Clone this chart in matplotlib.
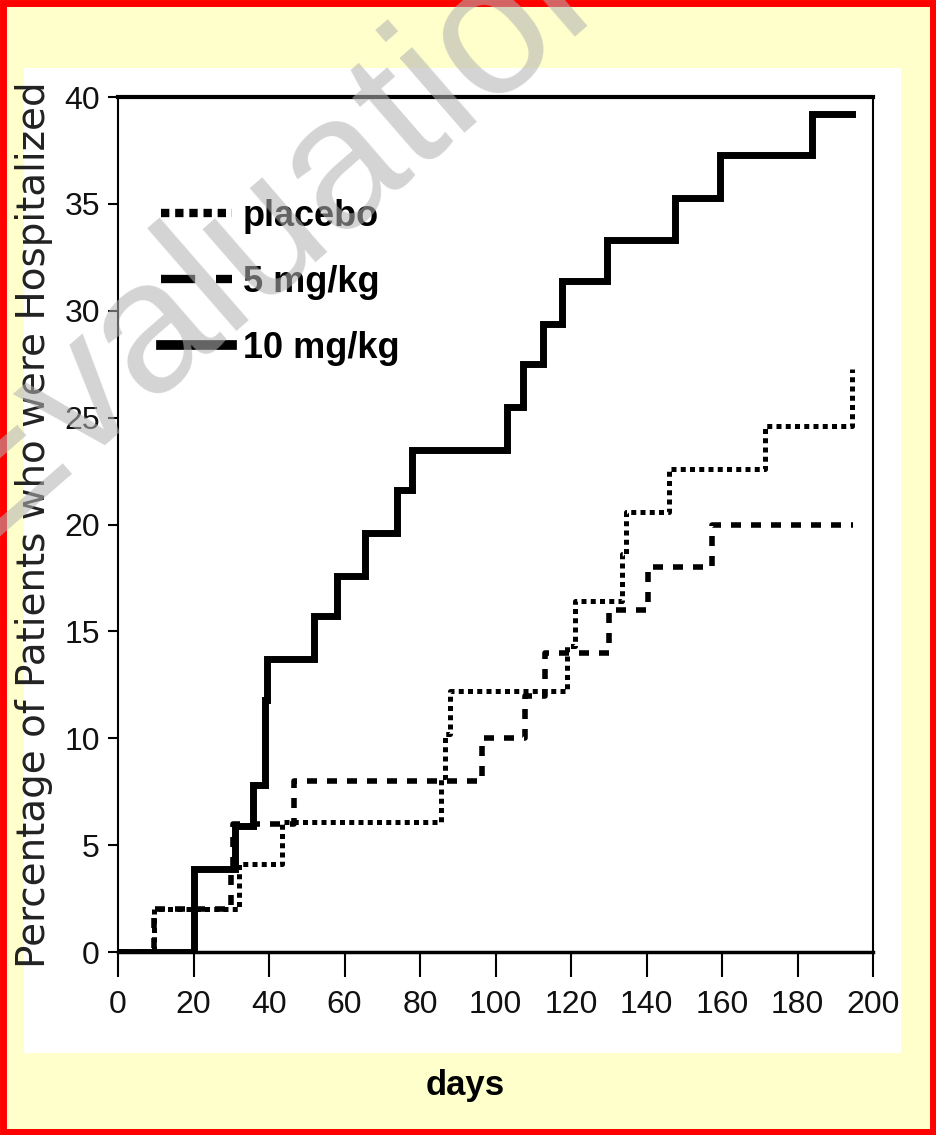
import matplotlib
matplotlib.use('Agg')
import matplotlib.pyplot as plt
from matplotlib.lines import Line2D
from matplotlib.patches import Rectangle

# cumulative hospitalisation, read as step functions (day, percent)
days_placebo = [0, 9.5, 32, 43.5, 85.5, 86.5, 88, 119, 121, 133.5, 134.5, 146, 171.5, 194.5]
pct_placebo = [0, 2.0, 4.1, 6.1, 8.2, 10.2, 12.2, 14.3, 16.4, 18.6, 20.6, 22.6, 24.6, 27.3]

days_5mg = [0, 9.5, 30, 30.5, 46.5, 96.4, 107.8, 113, 130, 140.5, 157.3, 194.7]
pct_5mg = [0, 2, 4, 6, 8, 10, 12, 14, 16, 18, 20, 20]

days_10mg = [0, 20, 31, 35.8, 38.9, 39.5, 52, 58, 65.4, 74, 78, 103, 107.3, 112.6,
             117.6, 129.5, 147.5, 159.5, 183.8, 194.5]
pct_10mg = [0, 3.9, 5.9, 7.8, 11.8, 13.7, 15.7, 17.6, 19.6, 21.6, 23.5, 25.5, 27.5,
            29.4, 31.4, 33.3, 35.3, 37.3, 39.2, 39.2]

labels = ['placebo', '5 mg/kg', '10 mg/kg']
xticks = list(range(0, 201, 20))
yticks = list(range(0, 41, 5))

tick_font = ['Liberation Sans Narrow', 'Liberation Sans', 'DejaVu Sans']

fig = plt.figure(figsize=(9.36, 11.35), dpi=100, facecolor='#FFFFCC')

# white panel behind the chart
fig.patches.append(Rectangle((0.0256, 0.0722), 0.937, 0.8678, transform=fig.transFigure,
                             facecolor='white', edgecolor='none', zorder=0))
# red frame
fig.patches.append(Rectangle((0.003, 0.003), 0.994, 0.994, transform=fig.transFigure,
                             facecolor='none', edgecolor='#FF0000', linewidth=5, zorder=5))

ax = fig.add_axes([0.1261, 0.1612, 0.8066, 0.7533], zorder=2)
ax.set_facecolor('white')

ax.step(days_placebo, pct_placebo, where='post', color='black', lw=3.6,
        linestyle=(0, (1.0, 0.85)))
ax.step(days_5mg, pct_5mg, where='post', color='black', lw=4.0,
        linestyle=(0, (1.8, 1.8)))
ax.step(days_10mg, pct_10mg, where='post', color='black', lw=5.0,
        solid_joinstyle='miter')

ax.set_xlim(0, 200)
ax.set_ylim(0, 40)
ax.set_xticks(xticks)
ax.set_yticks(yticks)
ax.tick_params(axis='x', direction='out', length=18, width=1.5, pad=9, labelsize=23)
ax.tick_params(axis='y', direction='out', length=7, width=1.5, pad=6, labelsize=23)
for lab in ax.get_xticklabels() + ax.get_yticklabels():
    lab.set_family(tick_font)
    lab.set_color('#111111')

ax.spines['top'].set_linewidth(3)
ax.spines['bottom'].set_linewidth(2.5)
ax.spines['left'].set_linewidth(1.5)
ax.spines['right'].set_linewidth(1.5)

ax.set_ylabel('Percentage of Patients who were Hospitalized', family='DejaVu Sans',
              fontsize=28, color='#222222', labelpad=8)

handles = [Line2D([], [], color='black', lw=6, linestyle=(0, (1.0, 0.7))),
           Line2D([], [], color='black', lw=6, linestyle=(0, (4.1, 2.5))),
           Line2D([], [], color='black', lw=7)]
ax.legend(handles, labels, loc='upper left', bbox_to_anchor=(0.0566, 0.881), frameon=False,
          prop={'family': 'Liberation Sans', 'weight': 'bold', 'size': 26},
          handlelength=1.97, handletextpad=0.3, labelspacing=0.86, borderpad=0,
          borderaxespad=0)

fig.text(0.497, 0.044, 'days', ha='center', va='center', family='Liberation Sans',
         weight='bold', fontsize=25)

# diagonal watermark over everything
fig.text(0.298, 0.809, 'Evaluation', ha='center', va='center', rotation=41,
         family='Liberation Sans', fontsize=135, color='#B3B3B3', alpha=0.57, zorder=10)

fig.savefig('out.png', dpi=100, facecolor=fig.get_facecolor())
